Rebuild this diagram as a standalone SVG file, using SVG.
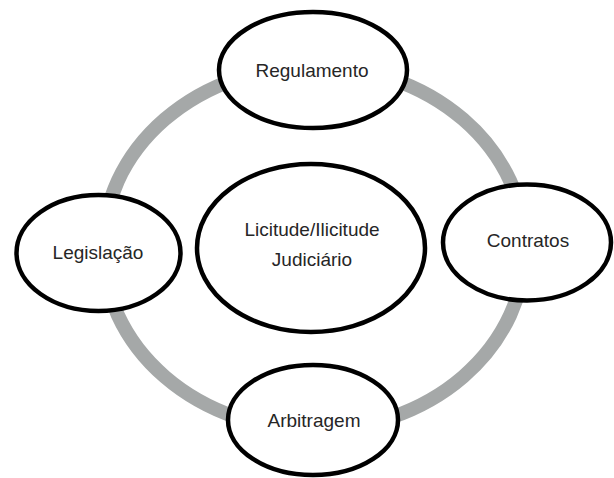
<svg xmlns="http://www.w3.org/2000/svg" width="614" height="478" viewBox="0 0 614 478">
<style>
.node{fill:#fff;stroke:#000;stroke-width:4.5}
.lbl{font-family:"Liberation Sans",Arial,sans-serif;font-size:19px;fill:#262626;text-anchor:middle}
.ring{fill:none;stroke:#a5a8a8;stroke-width:14}
</style>
<rect width="614" height="478" fill="#fff"/>
<g id="connectors">
<ellipse class="ring" cx="314" cy="248" rx="211" ry="182"/>
</g>
<g id="center">
<ellipse class="node" cx="311" cy="248" rx="114" ry="84"/>
<text class="lbl" x="312" y="236">Licitude/Ilicitude</text>
<text class="lbl" x="312" y="266">Judiciário</text>
</g>
<g id="regulamento">
<ellipse class="node" cx="313" cy="70" rx="94" ry="58"/>
<text class="lbl" x="312" y="77">Regulamento</text>
</g>
<g id="legislacao">
<ellipse class="node" cx="98.5" cy="253" rx="82" ry="58"/>
<text class="lbl" x="98" y="259">Legislação</text>
</g>
<g id="contratos">
<ellipse class="node" cx="527" cy="242.5" rx="84" ry="58"/>
<text class="lbl" x="528" y="247">Contratos</text>
</g>
<g id="arbitragem">
<ellipse class="node" cx="313" cy="420" rx="85" ry="55"/>
<text class="lbl" x="314" y="427">Arbitragem</text>
</g>
</svg>
